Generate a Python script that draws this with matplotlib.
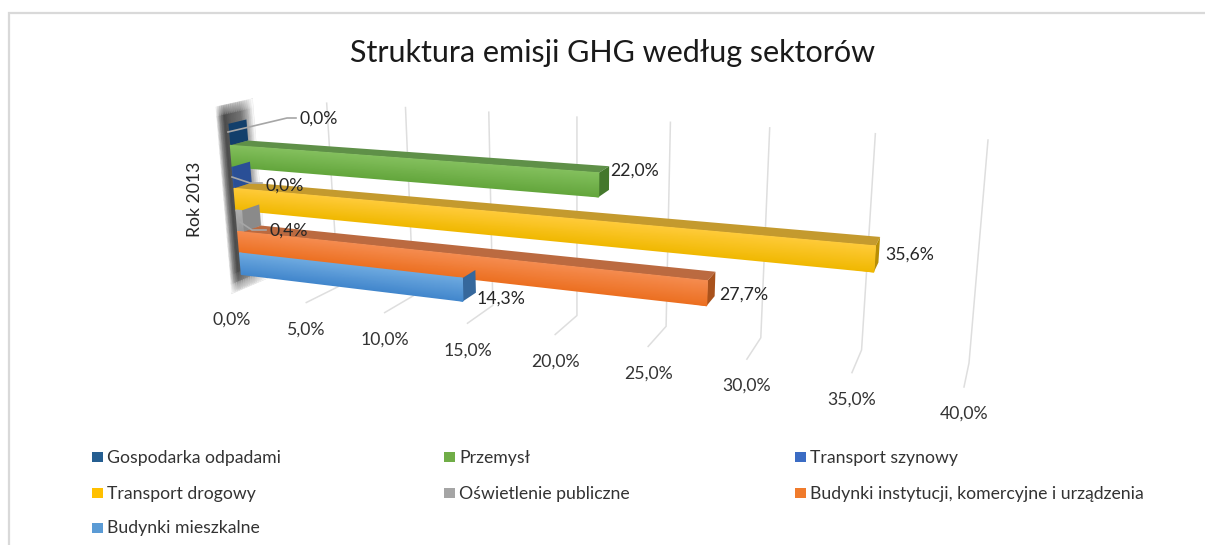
import numpy as np
import matplotlib
matplotlib.use('Agg')
import matplotlib.pyplot as plt
from matplotlib.colors import LinearSegmentedColormap
from matplotlib.patches import Polygon, Rectangle

plt.rcParams['font.family'] = ['Lato', 'DejaVu Sans']

title = 'Struktura emisji GHG według sektorów'
category = 'Rok 2013'
series = ['Gospodarka odpadami', 'Przemysł', 'Transport szynowy', 'Transport drogowy',
          'Oświetlenie publiczne', 'Budynki instytucji, komercyjne i urządzenia', 'Budynki mieszkalne']
values = [0.0, 22.0, 0.0, 35.6, 0.4, 27.7, 14.3]
ticks = [0, 5, 10, 15, 20, 25, 30, 35, 40]

# colours: swatch, front top, front bottom, top face, side face
swatch = ['#255e91', '#70ad47', '#3b6cc4', '#ffc000', '#a5a5a5', '#f07b2c', '#5b9bd5']
front_top = ['#1b5288', '#84c05e', '#3a63ad', '#ffcb3a', '#b0b0b0', '#f58c50', '#6eaae0']
front_bot = ['#123f6b', '#63a63c', '#27488c', '#f0b800', '#969696', '#ec6f20', '#4186cc']
top_face = ['#2a5a88', '#5f9048', '#33548f', '#c49a2e', '#8f8f8f', '#bb6a40', '#4f86bb']
side_face = ['#123f6b', '#44782c', '#2a4f96', '#b88e05', '#8a8a8a', '#a9521c', '#36689c']

# pixel positions of the value labels and their leader lines
label_xy = {0: (299, 119), 1: (610, 171), 2: (265, 186), 3: (885, 255), 4: (270, 231), 5: (719, 295), 6: (477, 299)}
leaders = {0: [(228, 132), (287, 118), (296, 118)],
           2: [(232, 177), (250, 183), (262, 183)],
           4: [(240, 222), (252, 230), (266, 230)]}
legend_xy = [(92, 457), (444, 457), (795, 457), (92, 493), (444, 493), (795, 493), (92, 528)]

# corners of the 3D box in the picture, v=0 and v=40
BT0, BB0, FT0, FB0 = np.array([252, 99.]), np.array([267, 278.]), np.array([216, 107.]), np.array([232, 293.])
BT1, BB1, FT1, FB1 = np.array([988, 140.]), np.array([969, 363.]), np.array([983, 155.]), np.array([964, 387.])
R = 1.265
VMAX = 40.0
D_BACK, D_FRONT = 0.2, 0.7
H_TOP, H_STEP = 0.8955, 0.117


def proj(v, d, h):
    # v = value, d = depth (0 back, 1 front), h = height (0 floor, 1 top)
    u = v / VMAX
    t = u / (u + (1 - u) * R)
    p0 = (BT0 * h + BB0 * (1 - h)) * (1 - d) + (FT0 * h + FB0 * (1 - h)) * d
    p1 = (BT1 * h + BB1 * (1 - h)) * (1 - d) + (FT1 * h + FB1 * (1 - h)) * d
    return p0 * (1 - t) + p1 * t


fig = plt.figure(figsize=(12.05, 5.45), dpi=100)
ax = fig.add_axes([0, 0, 1, 1])
ax.set_xlim(0, 1205)
ax.set_ylim(545, 0)
ax.axis('off')

# chart frame
ax.plot([9, 9, 1205], [545, 13, 13], color='#d9d9d9', lw=1.6, solid_joinstyle='miter')

# grid on the back wall and floor
for v in ticks:
    pts = np.array([proj(v, 0, 1), proj(v, 0, 0), proj(v, 1, 0)])
    ax.plot(pts[:, 0], pts[:, 1], color='#dedede', lw=1.1, zorder=1)
    x, y = proj(v, 1, 0)
    ax.text(x, y + 27, f'{v:.1f}'.replace('.', ',') + '%', ha='center', va='center',
            fontsize=12.7, color='#333333')

# side wall with the shaded look
d_grid = np.linspace(0, 1, 21)
h_grid = np.linspace(0, 1, 21)
X = np.zeros((21, 21))
Y = np.zeros((21, 21))
for i, h in enumerate(h_grid):
    for j, d in enumerate(d_grid):
        X[i, j], Y[i, j] = proj(0, d, h)
shade_d = np.interp(d_grid, [0, 0.15, 0.35, 0.6, 0.8, 0.93, 1], [0.02, 0.3, 0.55, 0.62, 0.7, 0.45, 0.1])
shade_h = np.interp(h_grid, [0, 0.07, 0.95, 1], [0.1, 1, 1, 0.3])
ax.pcolormesh(X, Y, np.outer(shade_h, shade_d), cmap='gray_r', vmin=0, vmax=1,
              shading='gouraud', zorder=2)

# bars, top to bottom so the lower ones overlap
for i, v in enumerate(values):
    h1 = H_TOP - H_STEP * i
    h0 = h1 - H_STEP
    z = 3 + i
    # top face only shows where the bar above is shorter
    start = values[i - 1] if i > 0 else 0
    if v > start:
        ax.add_patch(Polygon([proj(start, D_FRONT, h1), proj(v, D_FRONT, h1), proj(v, D_BACK, h1), proj(start, D_BACK, h1)],
                             facecolor=top_face[i], edgecolor='none', zorder=z))
    ax.add_patch(Polygon([proj(v, D_FRONT, h1), proj(v, D_FRONT, h0), proj(v, D_BACK, h0), proj(v, D_BACK, h1)],
                         facecolor=side_face[i], edgecolor='none', zorder=z))
    corners = [[proj(0, D_FRONT, h1), proj(v, D_FRONT, h1)], [proj(0, D_FRONT, h0), proj(v, D_FRONT, h0)]]
    corners = np.array(corners)
    cmap = LinearSegmentedColormap.from_list('f', [front_top[i], front_bot[i]])
    ax.pcolormesh(corners[:, :, 0], corners[:, :, 1], np.array([[0, 0], [1, 1]]), cmap=cmap,
                  vmin=0, vmax=1, shading='gouraud', zorder=z)

# leader lines and value labels
for i, pts in leaders.items():
    pts = np.array(pts)
    ax.plot(pts[:, 0], pts[:, 1], color='#a6a6a6', lw=1.2, zorder=11)
for i, v in enumerate(values):
    x, y = label_xy[i]
    ax.text(x, y, f'{v:.1f}'.replace('.', ',') + '%', ha='left', va='center', fontsize=12.7,
            color='#262626', zorder=12)

ax.text(613, 53, title, ha='center', va='center', fontsize=22, color='#1a1a1a')
ax.text(195, 199, category, rotation=90, ha='center', va='center', fontsize=12.7, color='#262626')

# legend
for i, name in enumerate(series):
    x, y = legend_xy[i]
    ax.add_patch(Rectangle((x, y - 5), 11, 10, facecolor=swatch[i], edgecolor='none'))
    ax.text(x + 15, y + 0.5, name, ha='left', va='center', fontsize=12.7, color='#333333')

fig.savefig('out.png', dpi=100)
